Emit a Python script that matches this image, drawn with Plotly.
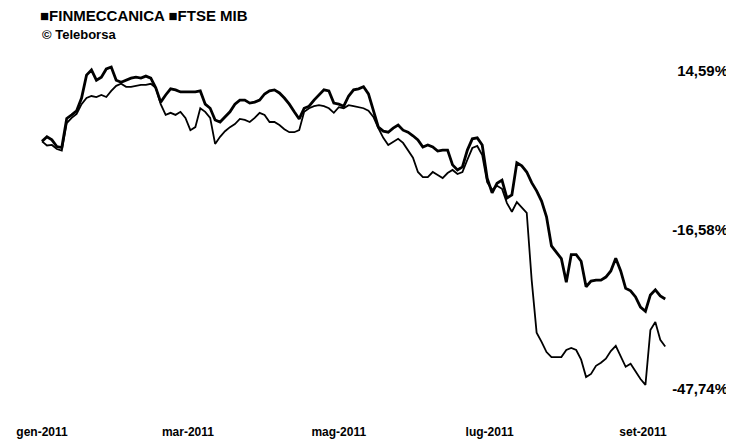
import plotly.graph_objects as go
import pandas as pd

# --- data (percentage change since start of 2011) ---
start_date = "2011-01-01"
step_days = 2

finmeccanica = [
    0.0, -0.8, -0.7, -1.5, -1.8, 3.6, 4.6, 5.4, 7.3, 8.5,
    8.9, 8.7, 9.1, 8.7, 9.9, 10.9, 11.3, 10.7, 10.7, 10.9,
    11.1, 11.1, 11.3, 10.5, 7.3, 5.2, 5.6, 5.2, 5.8, 4.6,
    2.2, 2.8, 6.5, 5.8, 4.6, -0.5, 0.9, 2.0, 2.8, 3.4,
    4.4, 4.2, 3.8, 4.6, 5.6, 5.2, 3.8, 3.8, 3.2, 2.4,
    1.8, 1.8, 2.2, 5.8, 6.5, 6.9, 7.1, 6.9, 6.5, 5.6,
    6.7, 6.5, 7.1, 6.9, 6.7, 6.5, 6.0, 4.8, 2.6, 0.7,
    -0.7, -0.1, 0.5, -0.3, -1.7, -3.2, -6.0, -7.0, -7.0, -6.0,
    -6.6, -7.2, -6.2, -5.6, -6.4, -6.0, -3.6, -1.3, -0.9, -2.7,
    -8.0, -9.5, -8.7, -9.3, -12.1, -13.8, -11.9, -12.9, -14.0, -27.2,
    -37.5, -39.3, -41.3, -42.3, -42.3, -42.3, -40.9, -40.5, -40.9, -42.8,
    -46.2, -45.6, -44.0, -43.4, -42.6, -41.1, -40.1, -42.1, -44.2, -43.6,
    -45.2, -46.6, -47.74, -37.0, -35.4, -38.9, -40.2,
]

ftse_mib = [
    0.0, 0.9, 0.3, -1.0, -1.2, 4.5, 5.2, 6.0, 8.5, 13.0,
    14.0, 12.0, 12.6, 14.2, 14.59, 12.0, 11.6, 12.0, 12.4, 12.6,
    12.4, 12.8, 12.4, 10.5, 7.7, 9.1, 10.3, 10.1, 9.7, 9.7,
    9.7, 9.7, 9.9, 7.3, 6.5, 4.2, 3.8, 4.8, 5.8, 7.3,
    8.1, 8.1, 7.5, 7.7, 8.1, 9.3, 9.9, 10.1, 9.5, 8.5,
    7.3, 5.8, 4.4, 6.5, 6.9, 8.1, 9.1, 10.1, 9.9, 7.5,
    7.3, 6.9, 8.9, 10.1, 10.3, 10.7, 9.3, 6.2, 2.8, 2.0,
    1.8, 2.6, 3.2, 2.2, 1.8, 1.1, 0.3, -1.1, -0.7, -1.1,
    -1.9, -1.7, -1.7, -4.6, -5.6, -5.0, -1.7, 0.5, 0.7, -0.7,
    -7.2, -10.1, -8.2, -7.6, -11.1, -10.5, -4.2, -4.8, -6.0, -8.1,
    -9.7, -11.7, -14.8, -20.5, -21.7, -23.0, -27.6, -22.2, -22.2, -23.5,
    -28.5, -27.4, -27.2, -27.2, -26.6, -25.4, -22.9, -25.4, -28.8, -29.3,
    -30.5, -32.5, -33.3, -30.1, -29.1, -30.3, -30.9,
]

month_ticks = ["2011-01-01", "2011-03-01", "2011-05-01", "2011-07-01", "2011-09-01"]
month_labels = ["gen-2011", "mar-2011", "mag-2011", "lug-2011", "set-2011"]

y_ticks = [14.59, -16.575, -47.74]
y_labels = ["14,59%", "-16,58%", "-47,74%"]

series_names = ["FINMECCANICA", "FTSE MIB"]

dates = pd.date_range(start_date, periods=len(ftse_mib), freq=f"{step_days}D")

FONT = "Liberation Sans, Arial, sans-serif"

# The page body has an 8px default margin, so the figure is 8px smaller
# than the window on each axis and every position is offset by 8px.
fig = go.Figure()
fig.add_trace(go.Scatter(
    x=dates, y=finmeccanica, mode="lines", name=series_names[0],
    line=dict(color="#000000", width=1.8), showlegend=False,
))
fig.add_trace(go.Scatter(
    x=dates, y=ftse_mib, mode="lines", name=series_names[1],
    line=dict(color="#000000", width=2.8), showlegend=False,
))

PLOT_W, PLOT_H = 722, 369

fig.update_layout(
    width=726, height=433,
    margin=dict(l=2, r=2, t=42, b=22, autoexpand=False),
    paper_bgcolor="white", plot_bgcolor="white",
    font=dict(family=FONT, color="#000000"),
    xaxis=dict(
        range=["2010-12-19 01:26", "2011-10-07 00:00"],
        tickvals=month_ticks, ticktext=month_labels,
        showgrid=False, zeroline=False, showline=False, ticks="",
        automargin=False, ticklabelstandoff=4,
        tickfont=dict(size=12, family=FONT, weight="bold", color="#000"),
    ),
    yaxis=dict(
        side="right", range=[-54.43, 17.92],
        tickvals=y_ticks, ticktext=y_labels,
        ticklabelposition="inside",
        ticklabelshift=4, ticklabelstandoff=1,
        showgrid=False, zeroline=False, showline=False, ticks="",
        automargin=False,
        tickfont=dict(size=15, family=FONT, weight="bold", color="#000"),
    ),
    annotations=[
        dict(
            text="■" + series_names[0] + " ■" + series_names[1],
            xref="paper", yref="paper", x=(38 - 10) / PLOT_W, y=(419 - 16) / PLOT_H,
            xanchor="left", yanchor="middle", showarrow=False,
            font=dict(size=15, family=FONT, weight="bold", color="#000"),
        ),
        dict(
            text="© Teleborsa",
            xref="paper", yref="paper", x=(40 - 10) / PLOT_W, y=(419 - 35) / PLOT_H,
            xanchor="left", yanchor="middle", showarrow=False,
            font=dict(size=13, family=FONT, weight="bold", color="#000"),
        ),
    ],
)

fig.write_html("out.html")
